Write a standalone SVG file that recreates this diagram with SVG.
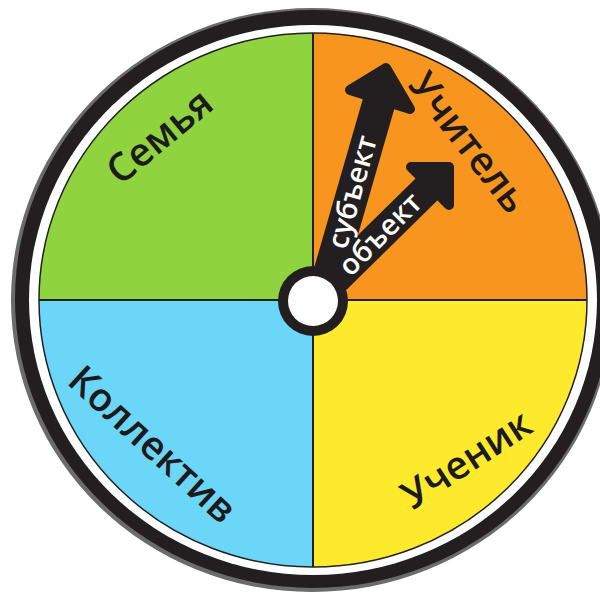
<svg xmlns="http://www.w3.org/2000/svg" width="600" height="592" viewBox="0 0 600 592">
  <defs>
    <clipPath id="disc">
      <ellipse cx="313" cy="300" rx="274" ry="267"/>
    </clipPath>
    <style>
      .lbl { font-family: "Open Sans", "Liberation Sans", sans-serif; font-size: 39px; font-weight: 600; fill: #1c1a1a; text-anchor: middle; }
      .arr { font-family: "Open Sans", "Liberation Sans", sans-serif; font-size: 29px; font-weight: 600; fill: #ffffff; text-anchor: middle; }
      .shaft { stroke: #231f20; fill: none; }
      .head { fill: #231f20; stroke: #231f20; stroke-width: 10; stroke-linejoin: round; }
      .div { stroke: #231f20; stroke-width: 2; }
    </style>
  </defs>

  <rect width="600" height="592" fill="#ffffff"/>

  <g id="rim">
    <ellipse cx="312" cy="300" rx="301" ry="292" fill="#6b6b6b"/>
    <ellipse cx="313" cy="299" rx="298" ry="289" fill="#231f20"/>
    <ellipse cx="313" cy="300" rx="284" ry="275" fill="#ffffff"/>
  </g>

  <g id="quadrants" clip-path="url(#disc)">
    <rect id="q-family" x="0" y="0" width="313" height="300" fill="#8fd33f"/>
    <rect id="q-teacher" x="313" y="0" width="300" height="300" fill="#f8951e"/>
    <rect id="q-collective" x="0" y="300" width="313" height="300" fill="#6cd6f8"/>
    <rect id="q-student" x="313" y="300" width="300" height="300" fill="#fdea2c"/>
  </g>
  <ellipse cx="313" cy="300" rx="274" ry="267" fill="none" stroke="#231f20" stroke-width="1.5"/>
  <g id="dividers">
    <line class="div" x1="39" y1="300" x2="587" y2="300"/>
    <line class="div" x1="313" y1="33" x2="313" y2="567"/>
  </g>

  <g id="labels">
    <g id="node-family"><text class="lbl" transform="translate(159,136) rotate(-39.5)" y="14">Семья</text></g>
    <g id="node-teacher"><text class="lbl" transform="translate(469,142) rotate(52)" y="14">Учитель</text></g>
    <g id="node-collective"><text class="lbl" transform="translate(153,444) rotate(42.5)" y="14">Коллектив</text></g>
    <g id="node-student"><text class="lbl" transform="translate(466,459) rotate(-33)" y="14">Ученик</text></g>
  </g>

  <g id="connectors">
    <g id="arrow-subject">
      <line class="shaft" x1="322" y1="300" x2="380" y2="99" stroke-width="33"/>
      <polygon class="head" points="350,90 386,68 410,109"/>
    </g>
    <g id="arrow-object">
      <line class="shaft" x1="313" y1="301" x2="430" y2="186" stroke-width="31"/>
      <polygon class="head" points="411,167 449,167 449,205"/>
    </g>
  </g>

  <g id="hub">
    <circle cx="313" cy="301" r="35" fill="#231f20"/>
    <circle cx="313" cy="301" r="25" fill="#ffffff"/>
  </g>

  <g id="arrow-texts">
    <text class="arr" transform="translate(352,192) rotate(-74.5)" y="10">субъект</text>
    <text class="arr" transform="translate(380,234) rotate(-45)" y="10">объект</text>
  </g>
</svg>
